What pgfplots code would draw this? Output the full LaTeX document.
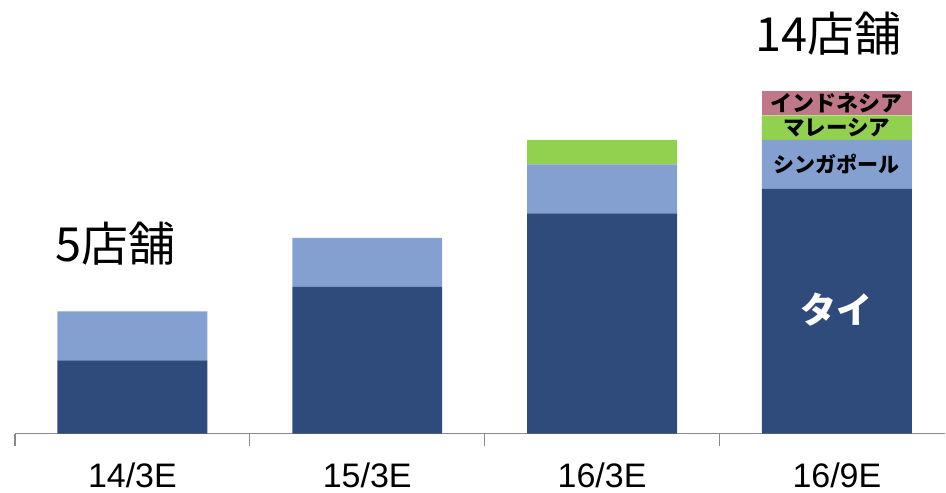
\documentclass[border=0pt]{standalone}
\usepackage{pgfplots}
\pgfplotsset{compat=1.18}
\usepackage{fontspec}
\setmainfont{Liberation Sans}
\newfontfamily\cjk{Noto Sans CJK JP}
\definecolor{thai}{RGB}{46,75,124}
\definecolor{sing}{RGB}{132,160,208}
\definecolor{malay}{RGB}{146,208,80}
\definecolor{indo}{RGB}{192,120,136}
\definecolor{axgray}{RGB}{137,137,137}
\begin{document}
\begin{tikzpicture}
\begin{axis}[
  at={(15bp,59bp)}, anchor=south west,
  scale only axis, width=931bp, height=434bp,
  xmin=-0.5, xmax=3.462, ymin=0, ymax=17.71,
  ybar stacked, bar width=150bp,
  axis y line=none, axis x line*=bottom,
  x axis line style={draw=axgray, line width=1.2bp, -},
  xtick={0,1,2,3}, xticklabels={14/3E,15/3E,16/3E,16/9E},
  major x tick style={draw=none},
  minor xtick={-0.5,0.5,1.5,2.5},
  minor x tick style={draw=axgray, line width=1.2bp},
  minor tick length=12bp,
  tick align=outside,
  xticklabel style={font=\fontsize{34bp}{34bp}\selectfont, anchor=center, yshift=-37bp},
  clip=false,
]
\addplot[fill=thai, draw=none] coordinates {(0,3) (1,6) (2,9) (3,10)};
\addplot[fill=sing, draw=none] coordinates {(0,2) (1,2) (2,2) (3,2)};
\addplot[fill=malay, draw=none] coordinates {(0,0) (1,0) (2,1) (3,1)};
\addplot[fill=indo, draw=none] coordinates {(0,0) (1,0) (2,0) (3,1)};
\coordinate (lthai) at (axis cs:3,5.06);
\coordinate (lsing) at (axis cs:3,11.0);
\coordinate (lmalay) at (axis cs:3,12.5);
\coordinate (lindo) at (axis cs:3,13.5);
\coordinate (ltot14) at (axis cs:2.964,16.35);
\coordinate (ltot5) at (axis cs:-0.074,7.75);
\end{axis}
\node[font=\cjk\bfseries\fontsize{36bp}{36bp}\selectfont, text=white] at (lthai) {タイ};
\node[font=\cjk\bfseries\fontsize{21bp}{21bp}\selectfont, text=black] at (lsing) {シンガポール};
\node[font=\cjk\bfseries\fontsize{21.5bp}{21.5bp}\selectfont, text=black] at (lmalay) {マレーシア};
\node[font=\cjk\bfseries\fontsize{22bp}{22bp}\selectfont, text=black] at (lindo) {インドネシア};
\node[font=\cjk\fontsize{47bp}{47bp}\selectfont, text=black] at (ltot14) {14店舗};
\node[font=\cjk\fontsize{47bp}{47bp}\selectfont, text=black] at (ltot5) {5店舗};
\path[use as bounding box] (0,0) rectangle (946bp,493bp);
\end{tikzpicture}
\end{document}
